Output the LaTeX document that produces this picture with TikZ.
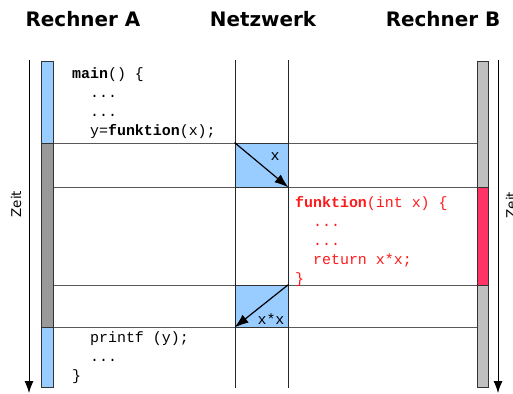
\documentclass[tikz,border=0pt]{standalone}
\usepackage{fontspec}
\setsansfont{DejaVu Sans}
\setmonofont{Liberation Mono}
\usetikzlibrary{arrows.meta}
\definecolor{hblau}{HTML}{99CCFF}
\definecolor{dgrau}{HTML}{999999}
\definecolor{hgrau}{HTML}{C0C0C0}
\definecolor{rrot}{HTML}{FF3366}
\definecolor{crot}{HTML}{FF1A1A}
\begin{document}
\begin{tikzpicture}[x=1bp, y=-1bp, >={Latex[length=12bp, width=9bp]},
          titel/.style={font=\sffamily\bfseries\fontsize{20}{24}\selectfont},
          zeit/.style={font=\sffamily\fontsize{13.5}{16}\selectfont, rotate=90},
          code/.style={font=\ttfamily\fontsize{15}{19}\selectfont, align=left, anchor=base west, inner sep=0pt},
          balken/.style={draw=black!80, line width=0.8bp},
          linie/.style={draw=black!65, line width=1bp},
          netz/.style={draw=black!80, fill=hblau, line width=0.8bp, inner sep=0pt, minimum width=53bp}]
        \useasboundingbox (0,0) rectangle (513,393);
        % Ueberschriften
        \node[titel] (ra) at (83,19) {Rechner A};
        \node[titel] (nw) at (263,19) {Netzwerk};
        \node[titel] (rb) at (443,19) {Rechner B};
        % Zeitachsen
        \coordinate (za) at (29,60); \coordinate (ze) at (29,393);
        \coordinate (zb) at (498,60); \coordinate (zf) at (498,393);
        \draw[->, line width=0.8bp] (za) -- (ze);
        \draw[->, line width=0.8bp] (zb) -- (zf);
        \node[zeit] (zl) at (16,204) {Zeit};
        \node[zeit] (zr) at (511,205) {Zeit};
        % Zeitpunkte
        \foreach \t/\n in {143/1, 187/2, 285/3, 327/4} {
          \coordinate (l\n) at (53,\t); \coordinate (r\n) at (477,\t);
          \draw[linie] (l\n) -- (r\n);
        }
        % Netzwerk
        \node[netz, minimum height=44bp] (n1) at (261.5,165) {};
        \node[netz, minimum height=42bp] (n2) at (261.5,306) {};
        \draw[black!85, line width=0.8bp] (235,60) -- (235,388) (288,60) -- (288,388);
        \draw[->, line width=1.2bp, >={Latex[length=14bp, width=10bp]}] (n1.north west) -- (n1.south east);
        \draw[->, line width=1.2bp, >={Latex[length=14bp, width=10bp]}] (n2.north east) -- (n2.south west);
        \node[code, anchor=center] (px) at (275,157) {x};
        \node[code, anchor=center] (pxx) at (271,319) {x*x};
        % Prozesse
        \draw[balken, fill=hblau] (41,61) rectangle (53,143);
        \draw[balken, fill=dgrau] (41,143) rectangle (53,327);
        \draw[balken, fill=hblau] (41,327) rectangle (53,387);
        \draw[balken, fill=hgrau] (477,61) rectangle (488,187);
        \draw[balken, fill=rrot] (477,187) rectangle (488,285);
        \draw[balken, fill=hgrau] (477,285) rectangle (488,387);
        % Programmtext
        \node[code] (ca) at (72,135) {\textbf{main}() \{\\\ \ ...\\\ \ ...\\\ \ y=\textbf{funktion}(x);};
        \node[code, text=crot] (cb) at (295,283) {\textbf{funktion}(int x) \{\\\ \ ...\\\ \ ...\\\ \ return x*x;\\\}};
        \node[code] (cc) at (72,380) {\ \ printf (y);\\\ \ ...\\\}};
      \end{tikzpicture}
\end{document}
